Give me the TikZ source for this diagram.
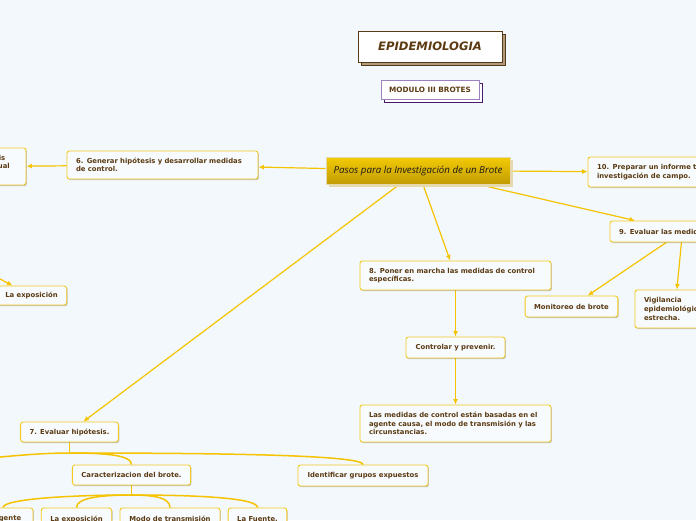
\documentclass[tikz,border=0pt]{standalone}
\usepackage{fontspec}
\setmainfont{DejaVu Sans}
\newfontfamily\cfont{Open Sans}
\usetikzlibrary{shadows,arrows.meta,calc}
\definecolor{bgc}{HTML}{F2F8FC}
\definecolor{boxf}{HTML}{F7FBFD}
\definecolor{bord}{HTML}{F4C820}
\definecolor{linec}{HTML}{F6C300}
\definecolor{txt}{HTML}{5B3A12}
\definecolor{epib}{HTML}{5A3A14}
\definecolor{epish}{HTML}{B09A80}
\definecolor{modb}{HTML}{9C80C0}
\definecolor{modsh}{HTML}{4A1A6A}
\definecolor{ctop}{HTML}{F3CB05}
\definecolor{cbot}{HTML}{C29B05}
\definecolor{csh}{HTML}{E6D9AE}
\pgfdeclarelayer{bg}\pgfdeclarelayer{edges}\pgfsetlayers{bg,edges,main}
\begin{document}
\begin{tikzpicture}[x=1pt,y=-1pt,
 txtfont/.style={font=\fontsize{6.85}{8.6}\selectfont\bfseries, text=txt},
 box/.style={txtfont, draw=bord, fill=boxf, line width=0.9pt, rounded corners=2.5pt,
   inner xsep=9pt, inner ysep=0pt,
   drop shadow={shadow xshift=0.9pt, shadow yshift=-1.1pt, fill=black, opacity=0.22}},
 lbox/.style={box, align=left},
 arr/.style={draw=linec, line width=1.2pt, -{Latex[length=5.5pt,width=5pt]}},
 tree/.style={draw=linec, line width=1.5pt}]
\useasboundingbox (0,0) rectangle (696,520);
\begin{pgfonlayer}{bg}\fill[bgc] (0,0) rectangle (696,520);\end{pgfonlayer}

% title boxes
\node[draw=epib, fill=white, line width=1pt, minimum width=144, minimum height=31, inner sep=0,
  font=\fontsize{11.6}{13}\selectfont\bfseries\itshape, text=txt,
  drop shadow={shadow xshift=3pt, shadow yshift=-3pt, fill=epish, draw=epib, line width=0.8pt, opacity=1}]
  (epi) at (430,46.5) {EPIDEMIOLOGIA};
\node[draw=modb, fill=white, line width=1pt, minimum width=98, minimum height=19, inner sep=0,
  font=\fontsize{7.3}{8}\selectfont\bfseries, text=txt,
  drop shadow={shadow xshift=3pt, shadow yshift=-3pt, fill=white, draw=modsh, line width=1pt, opacity=1}]
  (mod3) at (430,89.5) {MODULO III BROTES};

% central
\node[draw=csh, top color=ctop, bottom color=cbot, line width=0.8pt, minimum width=184, minimum height=27, inner sep=0,
  font=\cfont\fontsize{9.7}{11}\selectfont\itshape, text=black!90,
  drop shadow={shadow xshift=3pt, shadow yshift=-3pt, fill=csh, opacity=1}]
  (central) at (418,170.5) {Pasos para la Investigación de un Brote};

% left side
\node[lbox, minimum width=191, minimum height=28, text width=173] (n6) at (162.5,165)
  {\mbox{6. Generar hipótesis y desarrollar medidas}\\de control.};
\node[box, minimum width=86, minimum height=37] (lft) at (-17,166.5) {};
\node[txtfont, anchor=base east, inner sep=0] (lt1) at (5.5,160.8) {las hipótesis};
\node[txtfont, anchor=base east, inner sep=0] (lt2) at (10,168.8) {de manera puntual};
\node[box, minimum width=69, minimum height=19] (lexp) at (31.5,295.5) {La exposición};
\coordinate (lsrc) at (-40,258);

% right side
\node[lbox, minimum width=132, minimum height=30, text width=114] (n10) at (654,172)
  {\mbox{10. Preparar un informe técnico de la}\\\mbox{investigación de campo.}};
\node[lbox, minimum width=145, minimum height=21, text width=127] (n9) at (682.5,231.5)
  {\mbox{9. Evaluar las medidas de control.}};
\node[box, minimum width=91, minimum height=21] (mon) at (571.5,306.5) {Monitoreo de brote};
\node[lbox, minimum width=80, minimum height=38, text width=62] (vig) at (675,309)
  {Vigilancia\\\mbox{epidemiológica}\\estrecha.};

% middle
\node[lbox, minimum width=191, minimum height=29, text width=173] (n8) at (455.5,275.5)
  {\mbox{8. Poner en marcha las medidas de control}\\específicas.};
\node[box, minimum width=99, minimum height=21] (ctl) at (455.5,347.5) {Controlar y prevenir.};
\node[lbox, minimum width=191, minimum height=37, text width=173] (med) at (455.5,423.5)
  {\mbox{Las medidas de control están basadas en el}\\\mbox{agente causa, el modo de transmisión y las}\\circunstancias.};

% bottom tree
\node[box, minimum width=97, minimum height=20] (n7) at (69.5,432) {7. Evaluar hipótesis.};
\node[box, minimum width=117, minimum height=20] (car) at (131.5,475) {Caracterizacion del brote.};
\node[box, minimum width=130, minimum height=21] (idg) at (363,475.5) {Identificar grupos expuestos};
\node[box, minimum width=60, minimum height=22] (age) at (3,519) {El agente};
\node[box, minimum width=69, minimum height=22] (exp2) at (76.5,519) {La exposición};
\node[box, minimum width=100, minimum height=22] (mod) at (170,519) {Modo de transmisión};
\node[box, minimum width=57, minimum height=22] (fue) at (257.5,519) {La Fuente.};
\coordinate (j7) at (69.5,453);
\coordinate (lb) at (-30,460);
\coordinate (j2) at (131.5,495);

\begin{pgfonlayer}{edges}
\draw[arr] (central) -- (n6);
\draw[arr] (n6) -- (lft);
\draw[arr] (lsrc) -- (lexp);
\draw[arr] (central) -- (n10);
\draw[arr] (central) -- (n9);
\draw[arr] (n9) -- (mon);
\draw[arr] (n9) -- (vig);
\draw[arr] (central) -- (n8);
\draw[arr] (n8) -- (ctl);
\draw[arr] (ctl) -- (med);
\draw[arr] (central) -- (n7);
\draw[tree] (n7.south) -- (j7);
\draw[tree] (j7) .. controls (40,453) and (10,456) .. (lb);
\draw[tree] (j7) .. controls (105,453) and (131.5,455) .. (car.north);
\draw[tree] (j7) .. controls (220,453) and (363,455) .. (idg.north);
\draw[tree] (car.south) -- (j2);
\draw[tree] (j2) .. controls (70,495) and (3,499) .. (age.north);
\draw[tree] (j2) .. controls (100,495) and (76.5,498) .. (exp2.north);
\draw[tree] (j2) .. controls (155,495) and (170,498) .. (mod.north);
\draw[tree] (j2) .. controls (210,495) and (257.5,499) .. (fue.north);
\end{pgfonlayer}
\end{tikzpicture}
\end{document}
